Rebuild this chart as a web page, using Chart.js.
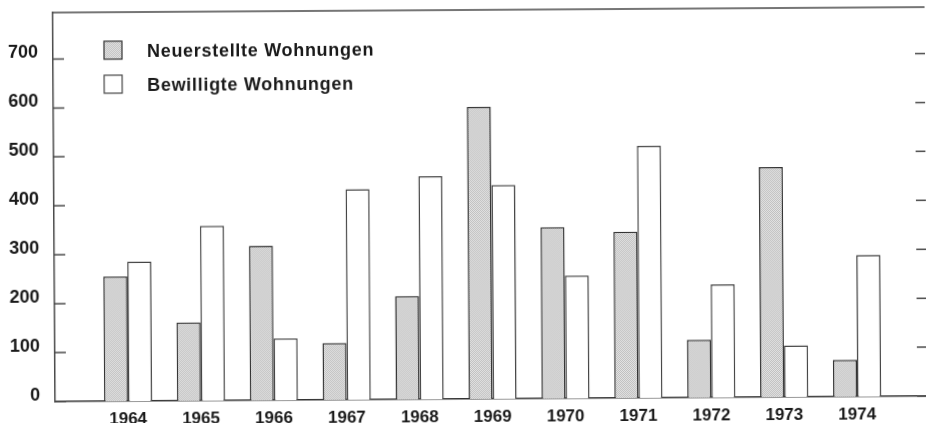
<!DOCTYPE html>
<html lang="de">
<head>
  <meta charset="UTF-8" />
  <title>Wohnungen 1964-1974</title>
  <script src="https://cdn.jsdelivr.net/npm/chart.js"></script>
  <style>
    html, body {
      margin: 0;
      padding: 0;
      background: #fff;
      overflow: hidden;
    }
    #wrap {
      width: 926px;
      height: 423px;
    }
    /* leicht schräg, wie der gedruckte Bogen */
    #wohnChart {
      transform: rotate(-0.36deg);
      transform-origin: 50% 50%;
    }
  </style>
</head>
<body>
  <div id="wrap">
    <canvas id="wohnChart" width="926" height="423"></canvas>
  </div>

  <script>
    // Jahre und Werte
    const jahre = [1964, 1965, 1966, 1967, 1968, 1969, 1970, 1971, 1972, 1973, 1974];
    const neuerstellt = [255, 160, 316, 116, 211, 597, 350, 340, 118, 470, 75];
    const bewilligt = [285, 357, 126, 430, 456, 437, 251, 515, 231, 105, 289];
    const yTicks = [0, 100, 200, 300, 400, 500, 600, 700];

    const familie = "'Liberation Sans', Arial, sans-serif";
    const textFarbe = '#1a1a1a';
    const linienFarbe = '#4a4a4a';

    // Punktraster für die grauen Säulen
    function rasterMuster() {
      const c = document.createElement('canvas');
      c.width = 2;
      c.height = 2;
      const g = c.getContext('2d');
      g.fillStyle = '#e4e4e4';
      g.fillRect(0, 0, 2, 2);
      g.fillStyle = '#bfbfbf';
      g.fillRect(0, 0, 1, 1);
      g.fillRect(1, 1, 1, 1);
      return g.createPattern(c, 'repeat');
    }
    const raster = rasterMuster();

    // Achsen ohne automatischen Rand, damit die Fläche genau sitzt
    function ohneRand(s) {
      s.paddingTop = 0;
      s.paddingBottom = 0;
      s.paddingLeft = 0;
      s.paddingRight = 0;
    }

    // Rahmen oben und kurze Striche innen an beiden Seiten
    const rahmenPlugin = {
      id: 'rahmen',
      afterDraw(chart) {
        const { ctx, chartArea } = chart;
        const y = chart.scales.y;
        ctx.save();
        ctx.strokeStyle = linienFarbe;
        ctx.lineWidth = 1.5;
        ctx.beginPath();
        ctx.moveTo(chartArea.left, chartArea.top);
        ctx.lineTo(chartArea.right, chartArea.top);
        yTicks.forEach(v => {
          const py = y.getPixelForValue(v);
          ctx.moveTo(chartArea.left, py);
          ctx.lineTo(chartArea.left + 11, py);
          ctx.moveTo(chartArea.right - 10, py);
          ctx.lineTo(chartArea.right, py);
        });
        ctx.stroke();
        ctx.restore();
      }
    };

    // Legende oben links im Rahmen
    const legendePlugin = {
      id: 'legende',
      afterDraw(chart) {
        const { ctx, chartArea } = chart;
        ctx.save();
        ctx.font = 'bold 18px ' + familie;
        ctx.letterSpacing = '0.7px';
        ctx.textBaseline = 'middle';
        chart.data.datasets.forEach((ds, i) => {
          const bx = chartArea.left + 51;
          const by = chartArea.top + 29 + i * 34;
          ctx.fillStyle = ds.backgroundColor;
          ctx.fillRect(bx, by, 18, 18);
          ctx.strokeStyle = ds.borderColor;
          ctx.lineWidth = 1.2;
          ctx.strokeRect(bx, by, 18, 18);
          ctx.fillStyle = textFarbe;
          ctx.fillText(ds.label, bx + 43, by + 11);
        });
        ctx.restore();
      }
    };

    const ctx = document.getElementById('wohnChart').getContext('2d');
    new Chart(ctx, {
      type: 'bar',
      data: {
        datasets: [
          {
            label: 'Neuerstellte Wohnungen',
            data: jahre.map((j, i) => ({ x: j, y: neuerstellt[i] })),
            backgroundColor: raster,
            borderColor: '#333',
            borderWidth: 1.5
          },
          {
            label: 'Bewilligte Wohnungen',
            data: jahre.map((j, i) => ({ x: j, y: bewilligt[i] })),
            backgroundColor: '#ffffff',
            borderColor: '#444',
            borderWidth: 1.5
          }
        ]
      },
      options: {
        responsive: false,
        animation: false,
        layout: { padding: { top: 10, right: 0, left: 0, bottom: 0 } },
        categoryPercentage: 0.66,
        barPercentage: 1,
        plugins: {
          legend: { display: false },
          tooltip: { enabled: false }
        },
        scales: {
          x: {
            type: 'linear',
            offset: false,
            min: 1963,
            max: 1974.96,
            afterBuildTicks: s => { s.ticks = jahre.map(v => ({ value: v })); },
            afterFit: s => { s.height = 24; ohneRand(s); },
            grid: { display: false, drawTicks: false },
            border: { display: true, color: '#333', width: 1.5 },
            ticks: {
              padding: 10,
              color: textFarbe,
              font: { family: familie, size: 17, weight: 'bold', lineHeight: 1 },
              maxRotation: 0,
              autoSkip: false,
              callback: v => String(v)
            }
          },
          y: {
            min: 0,
            max: 795,
            afterBuildTicks: s => { s.ticks = yTicks.map(v => ({ value: v })); },
            afterFit: s => { s.width = 54; ohneRand(s); },
            grid: { display: false, drawTicks: false },
            border: { display: true, color: linienFarbe, width: 1.5 },
            ticks: {
              padding: 15,
              labelOffset: -6,
              color: textFarbe,
              font: { family: familie, size: 18, weight: 'bold', lineHeight: 1 }
            }
          }
        }
      },
      plugins: [rahmenPlugin, legendePlugin]
    });
  </script>
</body>
</html>
